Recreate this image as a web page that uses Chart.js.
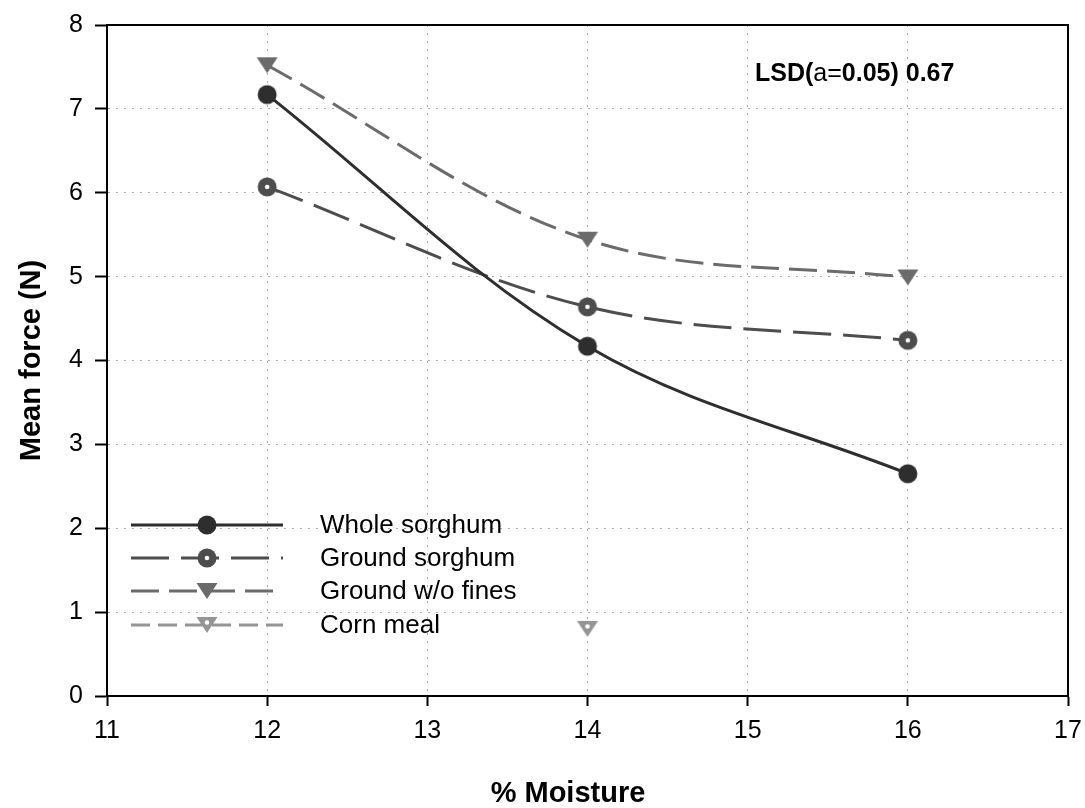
<!DOCTYPE html>
<html>
<head>
<meta charset="utf-8">
<script src="https://cdn.jsdelivr.net/npm/chart.js@4.4.1/dist/chart.umd.min.js"></script>
<style>
    html, body { margin: 0; padding: 0; background: #fff; }
    #kutu { width: 1085px; height: 808px; }
</style>
</head>
<body>
<div id="kutu"><canvas id="grafik" width="1085" height="808"></canvas></div>
<script>
// Nem oranı (%) ve ortalama kuvvet (N) değerleri
const moisture = [12, 14, 16];
const wholeSorghum = [7.17, 4.17, 2.65];
const groundSorghum = [6.07, 4.64, 4.24];
const groundNoFines = [7.52, 5.44, 4.99];
const cornMealMoisture = [14];
const cornMeal = [0.80];

const xTicks = [11, 12, 13, 14, 15, 16, 17];
const yTicks = [0, 1, 2, 3, 4, 5, 6, 7, 8];
const seriesNames = ["Whole sorghum", "Ground sorghum", "Ground w/o fines", "Corn meal"];

const FONT = "'Liberation Sans', Arial, sans-serif";

// İşaretçileri küçük canvaslara çiz
function makeMarker(shape, color, hole) {
    const c = document.createElement("canvas");
    c.width = 22;
    c.height = 22;
    const g = c.getContext("2d");
    g.fillStyle = color;
    g.beginPath();
    if (shape === "circle") {
        g.arc(11, 11, 9.5, 0, Math.PI * 2);
    } else {
        g.moveTo(0.5, 3);
        g.lineTo(21.5, 3);
        g.lineTo(11, 19);
        g.closePath();
    }
    g.fill();
    if (hole) {
        g.fillStyle = "#fff";
        g.beginPath();
        g.arc(11, shape === "circle" ? 11 : 8.5, 2.3, 0, Math.PI * 2);
        g.fill();
    }
    return c;
}

const styles = [
    { color: "#2e2e2e", dash: [], marker: makeMarker("circle", "#2e2e2e", false) },
    { color: "#4d4d4d", dash: [38, 12], marker: makeMarker("circle", "#4d4d4d", true) },
    { color: "#6b6b6b", dash: [28, 10], marker: makeMarker("tri", "#6b6b6b", false) },
    { color: "#959595", dash: [19, 8], marker: makeMarker("tri", "#959595", true) },
];

const toPoints = (xs, ys) => xs.map((x, i) => ({ x, y: ys[i] }));
const seriesData = [
    toPoints(moisture, wholeSorghum),
    toPoints(moisture, groundSorghum),
    toPoints(moisture, groundNoFines),
    toPoints(cornMealMoisture, cornMeal),
];

const datasets = seriesData.map((data, i) => ({
    label: seriesNames[i],
    data,
    showLine: true,
    tension: 0.35,
    borderColor: styles[i].color,
    borderWidth: 3,
    borderDash: styles[i].dash,
    pointStyle: styles[i].marker,
    pointRadius: 11,
    pointHoverRadius: 11,
}));

// Kutu çerçevesi, LSD yazısı, açıklama ve eksen başlıkları
const extras = {
    id: "extras",
    afterDraw(chart) {
        const { ctx, chartArea: a } = chart;
        ctx.save();

        ctx.strokeStyle = "#000";
        ctx.lineWidth = 2;
        ctx.beginPath();
        ctx.moveTo(a.left, a.top);
        ctx.lineTo(a.right, a.top);
        ctx.lineTo(a.right, a.bottom);
        ctx.stroke();

        // LSD(a=0.05) 0.67
        ctx.fillStyle = "#000";
        ctx.textBaseline = "middle";
        ctx.textAlign = "left";
        let x = 755;
        const parts = [["LSD(", "bold"], ["a=", "normal"], ["0.05) 0.67", "bold"]];
        parts.forEach(([t, w]) => {
            ctx.font = `${w} 25px ${FONT}`;
            ctx.fillText(t, x, 74);
            x += ctx.measureText(t).width;
        });

        // Açıklama kutusu
        const rows = [525, 558, 591, 625];
        rows.forEach((y, i) => {
            ctx.strokeStyle = styles[i].color;
            ctx.lineWidth = 3;
            ctx.setLineDash(styles[i].dash);
            ctx.beginPath();
            ctx.moveTo(131, y);
            ctx.lineTo(283, y);
            ctx.stroke();
            ctx.setLineDash([]);
            ctx.drawImage(styles[i].marker, 207 - 11, y - 11);
            ctx.font = `normal 26px ${FONT}`;
            ctx.fillStyle = "#000";
            ctx.fillText(seriesNames[i], 320, y + 1);
        });

        // Eksen başlıkları
        ctx.font = `bold 29px ${FONT}`;
        ctx.textAlign = "center";
        ctx.fillText("% Moisture", 568, 794);
        ctx.translate(32, (a.top + a.bottom) / 2);
        ctx.rotate(-Math.PI / 2);
        ctx.fillText("Mean force (N)", 0, 0);
        ctx.restore();
    },
};

const gridStyle = (len) => ({
    color: "#aaaaaa",
    lineWidth: 1,
    tickColor: "#000",
    tickWidth: 2,
    tickLength: len,
    tickBorderDash: [],
});

new Chart(document.getElementById("grafik"), {
    type: "scatter",
    data: { datasets },
    options: {
        responsive: false,
        animation: false,
        events: [],
        layout: { padding: { top: 25, right: 17, left: 0, bottom: 0 } },
        plugins: { legend: { display: false }, tooltip: { enabled: false } },
        scales: {
            x: {
                type: "linear",
                min: xTicks[0],
                max: xTicks[xTicks.length - 1],
                afterBuildTicks: (s) => { s.ticks = xTicks.map((v) => ({ value: v })); },
                afterFit: (s) => {
                    s.height = 112;
                    s.paddingLeft = 0;
                    s.paddingRight = 0;
                },
                grid: gridStyle(10),
                border: { color: "#000", width: 2, dash: [2, 6] },
                ticks: { color: "#000", padding: 10, maxRotation: 0, font: { family: FONT, size: 25 } },
            },
            y: {
                type: "linear",
                min: yTicks[0],
                max: yTicks[yTicks.length - 1],
                afterBuildTicks: (s) => { s.ticks = yTicks.map((v) => ({ value: v })); },
                afterFit: (s) => {
                    s.width = 107;
                    s.paddingTop = 0;
                    s.paddingBottom = 0;
                },
                grid: gridStyle(12),
                border: { color: "#000", width: 2, dash: [2, 6] },
                ticks: { color: "#000", padding: 12, font: { family: FONT, size: 25 } },
            },
        },
    },
    plugins: [extras],
});
</script>
</body>
</html>
